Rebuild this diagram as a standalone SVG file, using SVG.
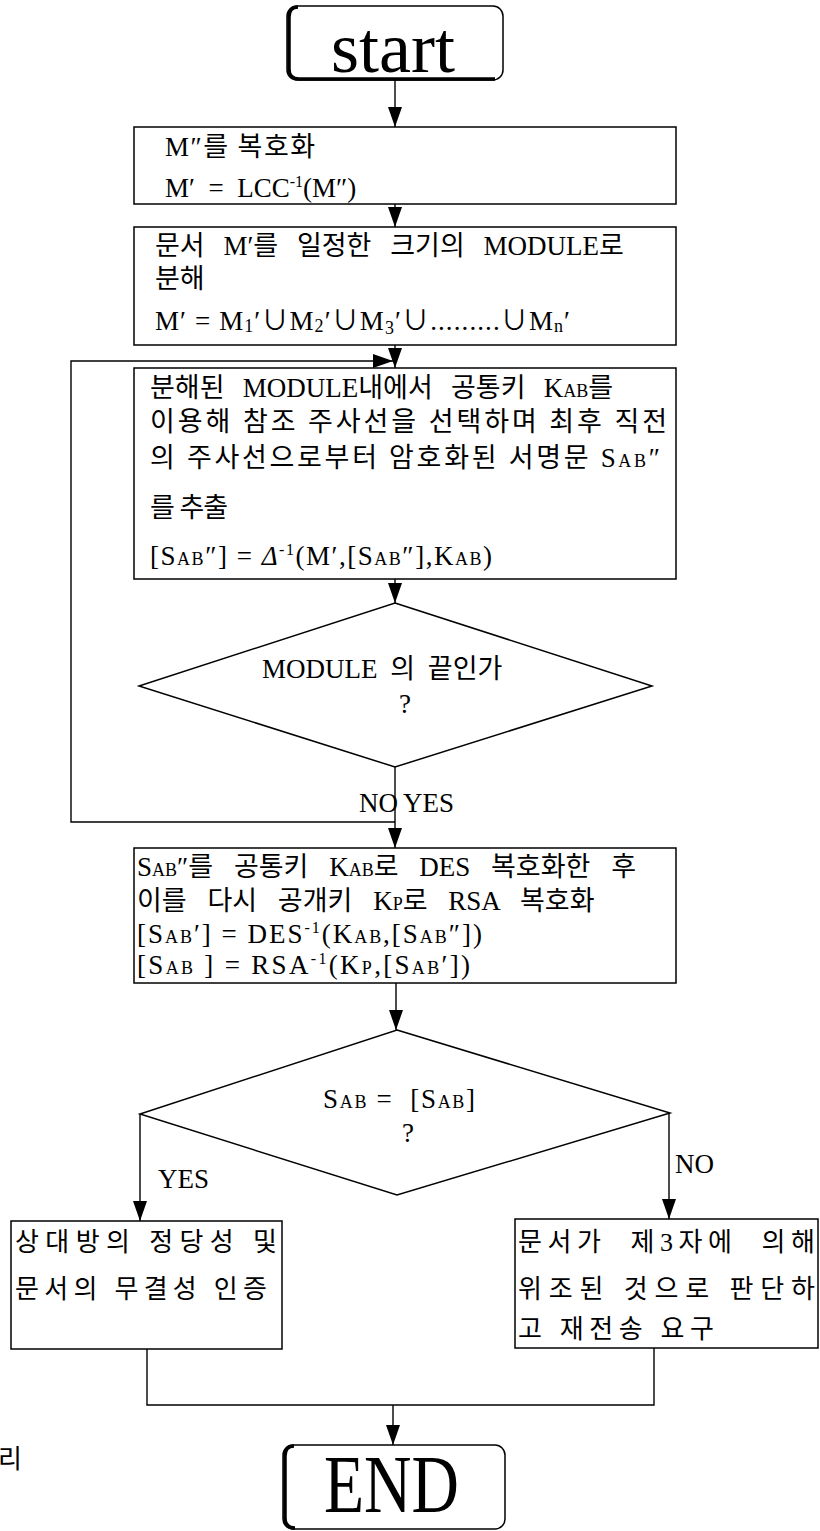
<svg xmlns="http://www.w3.org/2000/svg" width="820" height="1531" viewBox="0 0 820 1531">
<style>
.ln{fill:none;stroke:#000;stroke-width:1.4}
.bx{fill:#fff;stroke:#000;stroke-width:1.5}
.thk{fill:none;stroke:#000;stroke-width:3.5}
.t{font-family:"Liberation Serif","Noto Sans CJK KR",serif;font-size:27px;fill:#000}
.k{font-family:"Liberation Serif","Noto Sans CJK KR",serif;font-size:26px;fill:#000}
.s{font-size:18px}
.sup{font-size:16px}
.big{font-family:"Liberation Serif",serif;fill:#000}
</style>
<defs>
<marker id="ah" markerUnits="userSpaceOnUse" markerWidth="20" markerHeight="14" refX="20" refY="7" orient="auto">
<path d="M0,0 L20,7 L0,14 z" fill="#000"/>
</marker>
</defs>

<g id="connectors">
<line class="ln" x1="395" y1="80" x2="395" y2="127" marker-end="url(#ah)"/>
<line class="ln" x1="395" y1="204" x2="395" y2="227" marker-end="url(#ah)"/>
<line class="ln" x1="395" y1="345" x2="395" y2="368" marker-end="url(#ah)"/>
<path class="ln" d="M395,822 H71 V361 H393" marker-end="url(#ah)"/>
<line class="ln" x1="395" y1="579" x2="395" y2="603" marker-end="url(#ah)"/>
<line class="ln" x1="395" y1="767" x2="395" y2="848" marker-end="url(#ah)"/>
<line class="ln" x1="396" y1="983" x2="396" y2="1030" marker-end="url(#ah)"/>
<path class="ln" d="M140,1114 V1221" marker-end="url(#ah)"/>
<path class="ln" d="M669,1113 V1219" marker-end="url(#ah)"/>
<path class="ln" d="M147,1349 V1405 H654 V1348"/>
<line class="ln" x1="393" y1="1405" x2="393" y2="1445" marker-end="url(#ah)"/>
<text class="t" x="359" y="812" font-size="26">NO</text>
<text class="t" x="403" y="812" font-size="26">YES</text>
<text class="t" x="158" y="1188" font-size="26">YES</text>
<text class="t" x="675" y="1173" font-size="26">NO</text>
</g>

<g id="start">
<rect class="bx" x="287" y="6" width="216" height="74" rx="10"/>
<path class="thk" d="M298,7 Q289,7 289,17 V69 Q289,79 299,79 H495"/>
<text class="big" x="331" y="72" font-size="72">start</text>
</g>

<g id="decrypt">
<rect class="bx" x="134" y="127" width="542" height="77"/>
<text class="t" x="165" y="156" textLength="150" lengthAdjust="spacing">M″를 복호화</text>
<text class="t" x="165" y="197" xml:space="preserve">M′  =  LCC<tspan class="sup" dy="-10">-1</tspan><tspan dy="10">(M″)</tspan></text>
</g>

<g id="split">
<rect class="bx" x="134" y="227" width="542" height="118"/>
<text class="t" x="155" y="255" word-spacing="12">문서 M′를 일정한 크기의 MODULE로</text>
<text class="t" x="155" y="288">분해</text>
<text class="t" x="155" y="330" textLength="415" lengthAdjust="spacing">M′ = M<tspan class="s" dy="2">1</tspan><tspan dy="-2">′∪M</tspan><tspan class="s" dy="2">2</tspan><tspan dy="-2">′∪M</tspan><tspan class="s" dy="4">3</tspan><tspan dy="-4">′∪.........∪M</tspan><tspan class="s" dy="2">n</tspan><tspan dy="-2">′</tspan></text>
</g>

<g id="extract">
<rect class="bx" x="134" y="368" width="542" height="211"/>
<text class="t" x="150" y="397" word-spacing="11.5">분해된 MODULE내에서 공통키 K<tspan class="s">AB</tspan>를</text>
<text class="t" x="150" y="431" textLength="517" lengthAdjust="spacing">이용해 참조 주사선을 선택하며 최후 직전</text>
<text class="t" x="150" y="467" textLength="510" lengthAdjust="spacing">의 주사선으로부터 암호화된 서명문 S<tspan class="s">AB</tspan>″</text>
<text class="t" x="150" y="517" textLength="78" lengthAdjust="spacing">를 추출</text>
<text class="t" x="150" y="565" textLength="342" lengthAdjust="spacing">[S<tspan class="s">AB</tspan>″] = <tspan font-style="italic">Δ</tspan><tspan class="sup" dy="-10">-1</tspan><tspan dy="10">(M′,[S</tspan><tspan class="s">AB</tspan>″],K<tspan class="s">AB</tspan>)</text>
</g>

<g id="module-end">
<polygon class="bx" points="395,603 652,686 395,767 139,686"/>
<text class="t" x="262" y="678" font-size="29" word-spacing="6">MODULE 의 끝인가</text>
<text class="t" x="405" y="713" font-size="28" text-anchor="middle">?</text>
</g>

<g id="verify">
<rect class="bx" x="134" y="848" width="542" height="135"/>
<text class="t" x="137" y="876" word-spacing="14">S<tspan class="s">AB</tspan>″를 공통키 K<tspan class="s">AB</tspan>로 DES 복호화한 후</text>
<text class="t" x="137" y="910" word-spacing="14">이를 다시 공개키 K<tspan class="s">P</tspan>로 RSA 복호화</text>
<text class="t" x="137" y="943" textLength="345" lengthAdjust="spacing">[S<tspan class="s">AB</tspan>′] = DES<tspan class="sup" dy="-10">-1</tspan><tspan dy="10">(K</tspan><tspan class="s">AB</tspan>,[S<tspan class="s">AB</tspan>″])</text>
<text class="t" x="137" y="974" textLength="333" lengthAdjust="spacing" xml:space="preserve">[S<tspan class="s">AB</tspan> ] = RSA<tspan class="sup" dy="-10">-1</tspan><tspan dy="10">(K</tspan><tspan class="s">P</tspan>,[S<tspan class="s">AB</tspan>′])</text>
</g>

<g id="compare">
<polygon class="bx" points="397,1030 670,1113 397,1195 140,1114"/>
<text class="t" x="323" y="1108" textLength="152" lengthAdjust="spacing" xml:space="preserve">S<tspan class="s">AB</tspan> =  [S<tspan class="s">AB</tspan>]</text>
<text class="t" x="408" y="1142" text-anchor="middle">?</text>
</g>

<g id="authentic">
<rect class="bx" x="11" y="1221" width="271" height="128"/>
<text class="k" x="15" y="1251" textLength="262" lengthAdjust="spacing">상대방의 정당성 및</text>
<text class="k" x="15" y="1298" textLength="252" lengthAdjust="spacing">문서의 무결성 인증</text>
</g>

<g id="forged">
<rect class="bx" x="515" y="1219" width="303" height="129"/>
<text class="k" x="518" y="1251" textLength="297" lengthAdjust="spacing" xml:space="preserve">문서가  제3자에  의해</text>
<text class="k" x="518" y="1298" textLength="297" lengthAdjust="spacing">위조된 것으로 판단하</text>
<text class="k" x="518" y="1338" textLength="196" lengthAdjust="spacing">고 재전송 요구</text>
</g>

<g id="end">
<rect class="bx" x="283" y="1445" width="222" height="84" rx="10"/>
<path class="thk" d="M294,1446 Q285,1446 285,1456 V1518 Q285,1528 295,1528"/>
<text class="big" x="324" y="1512" font-size="82" textLength="135" lengthAdjust="spacingAndGlyphs">END</text>
</g>

<text class="k" x="-2" y="1468" font-size="22">리</text>
</svg>
